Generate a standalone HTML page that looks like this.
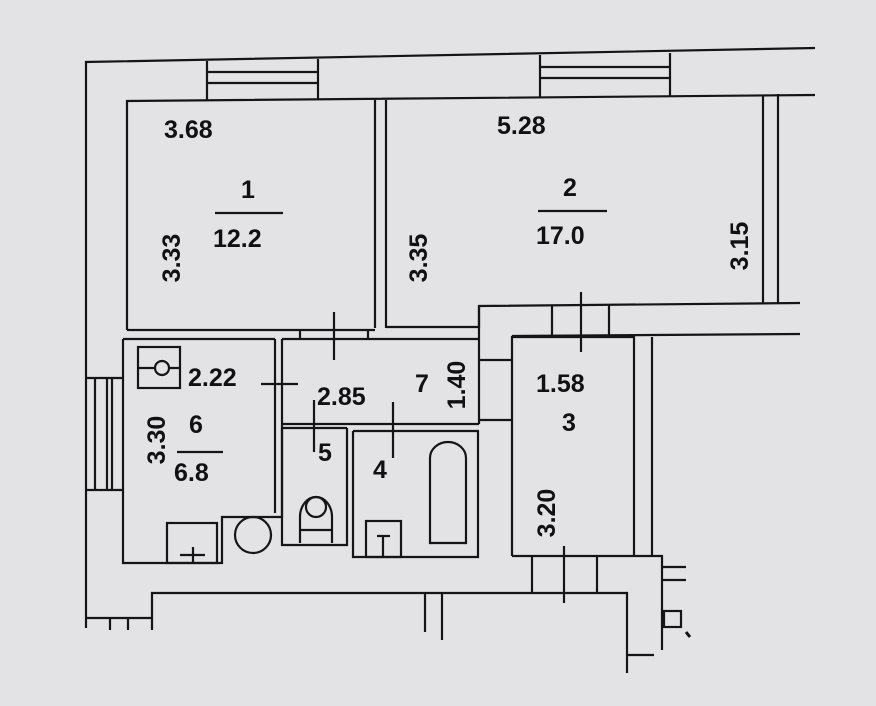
<!DOCTYPE html>
<html><head><meta charset="utf-8"><style>
html,body{margin:0;padding:0;background:#e3e3e5;}
svg{display:block}
text{font-family:"Liberation Sans",sans-serif;font-weight:bold;font-size:25px;fill:#111;}
</style></head><body>
<svg width="876" height="706" viewBox="0 0 876 706" xmlns="http://www.w3.org/2000/svg">
<rect width="876" height="706" fill="#e3e3e5"/>
<g stroke="#151515" stroke-width="2.2" fill="none">
<path d="M86 628 V62 L815 48"/>
<path d="M127 330 V101 L815 95"/>
<path d="M207 61 V101 M318 59 V100 M207 72 H318 M207 83 H318"/>
<path d="M540 55 V97 M670 53 V96 M540 67 H670 M540 78 H670"/>
<path d="M375 100 V328 M386 100 V328"/>
<path d="M763 95 V304 M778 94 V304"/>
<path d="M386 327 H479 V306 L800 303"/>
<path d="M512 336 L800 334"/>
<path d="M552 306 V336 M609 305 V336"/>
<path d="M581 292 V352"/>
<path d="M127 330 H375 M123 339 H275 M282 339 H479"/>
<path d="M300 330 V339 M368 330 V339"/>
<path d="M334 312 V360"/>
<path d="M86 378 H123 M86 490 H123 M95 378 V490 M107 378 V490 M112 378 V490"/>
<path d="M123 339 V563 H222 V517 H282 V339"/>
<path d="M275 339 V513"/>
<rect x="138" y="347" width="42" height="41"/>
<path d="M138 368 H155 M169 368 H180"/>
<circle cx="162" cy="368" r="7"/>
<rect x="167" y="523" width="50" height="40"/>
<path d="M180 555 H205 M193 547 V563"/>
<circle cx="253" cy="535" r="18"/>
<path d="M261 384 H298"/>
<path d="M282 424 H479 M282 428 H347 M353 431 H479"/>
<path d="M479 306 V424 M479 360 H512 M479 420 H512"/>
<path d="M282 428 V545 H347 V428"/>
<path d="M314 400 V452"/>
<path d="M300 543 V517 A16 20 0 0 1 332 517 V543"/>
<circle cx="316" cy="507" r="10"/>
<path d="M300 530 H332"/>
<path d="M353 431 V557 H478 V431"/>
<path d="M393 402 V458"/>
<path d="M430 543 V458 A18 16 0 0 1 466 458 V543 Z"/>
<rect x="366" y="521" width="35" height="36"/>
<path d="M377 536 H390 M383 536 V557"/>
<path d="M512 556 V337 H634 V556 M652 337 V556"/>
<path d="M512 556 H662 V650"/>
<path d="M532 556 V592 M597 556 V592 M564 546 V603"/>
<path d="M662 567 H686 M662 580 H686"/>
<rect x="664" y="611" width="17" height="16"/>
<path d="M686 632 L690 637" stroke-width="3"/>
<path d="M152 630 V593 H627 V673 M627 655 H654"/>
<path d="M86 618 H152 M110 618 V630 M128 618 V630"/>
<path d="M425 593 V632 M442 593 V640"/>
<path d="M215 213 H283 M538 211 H607 M177 452 H223"/>
</g>
<text x="164" y="138">3.68</text>
<text x="241" y="198">1</text>
<text x="213" y="247">12.2</text>
<text transform="translate(180,258) rotate(-90)" text-anchor="middle">3.33</text>
<text transform="translate(427,258) rotate(-90)" text-anchor="middle">3.35</text>
<text x="497" y="134">5.28</text>
<text x="563" y="196">2</text>
<text x="536" y="244">17.0</text>
<text transform="translate(748,246) rotate(-90)" text-anchor="middle">3.15</text>
<text x="188" y="386">2.22</text>
<text x="317" y="405">2.85</text>
<text x="415" y="392">7</text>
<text transform="translate(465,385) rotate(-90)" text-anchor="middle">1.40</text>
<text transform="translate(165,440) rotate(-90)" text-anchor="middle">3.30</text>
<text x="189" y="433">6</text>
<text x="174" y="481">6.8</text>
<text x="318" y="461">5</text>
<text x="373" y="478">4</text>
<text x="536" y="392">1.58</text>
<text x="562" y="431">3</text>
<text transform="translate(555,513) rotate(-90)" text-anchor="middle">3.20</text>
</svg>
</body></html>
